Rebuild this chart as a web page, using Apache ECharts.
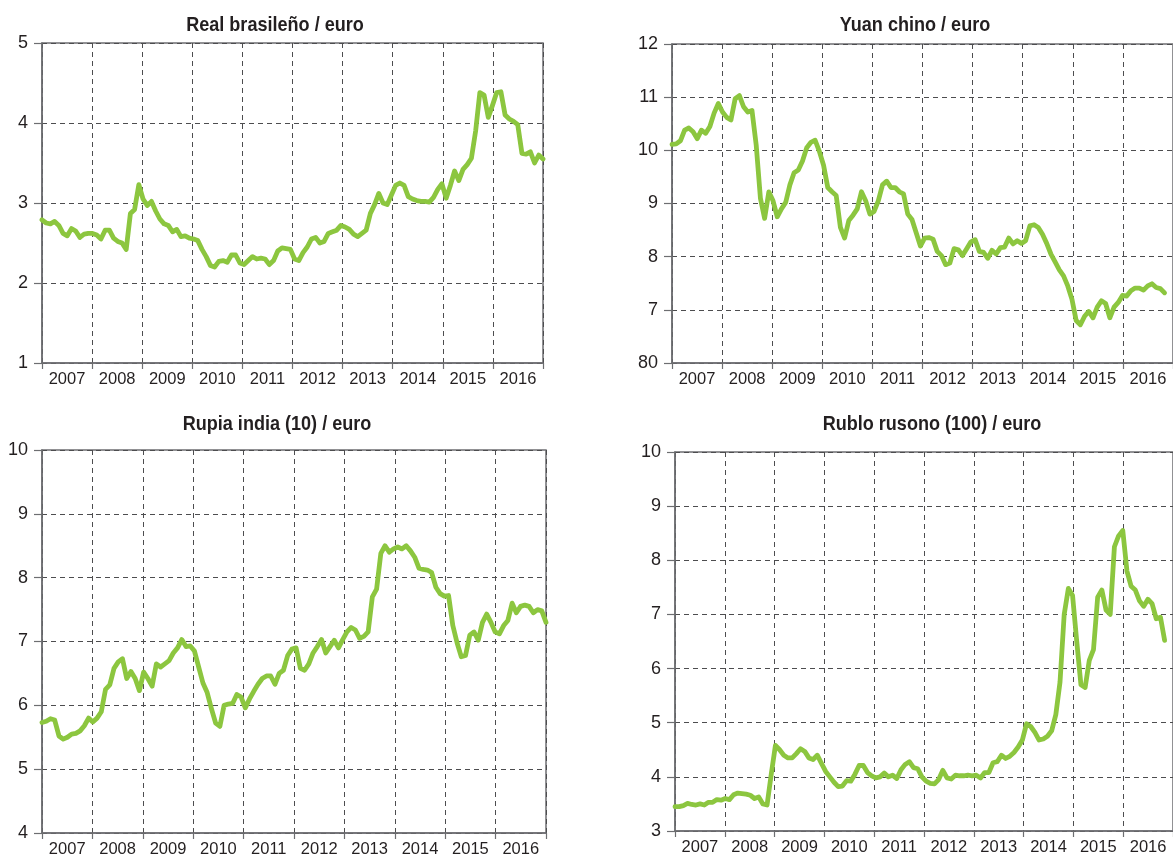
<!DOCTYPE html>
<html>
<head>
<meta charset="utf-8">
<script src="https://cdn.jsdelivr.net/npm/echarts@6/dist/echarts.min.js"></script>
<style>
  html, body { margin: 0; padding: 0; background: #fff; }
  #chart { width: 1173px; height: 860px; }
</style>
</head>
<body>
<div id="chart"></div>
<script>
// years shown under each panel (one band per year, Jan 2007 - Dec 2016)
const years = ['2007', '2008', '2009', '2010', '2011', '2012', '2013', '2014', '2015', '2016'];

// monthly values
const realBrasileno = [
  2.79, 2.75, 2.74, 2.77, 2.72, 2.62, 2.59, 2.68, 2.65, 2.57, 2.61, 2.62,
  2.62, 2.60, 2.55, 2.66, 2.66, 2.56, 2.52, 2.50, 2.42, 2.87, 2.92, 3.23,
  3.05, 2.97, 3.02, 2.90, 2.80, 2.74, 2.72, 2.64, 2.67, 2.58, 2.59, 2.56,
  2.55, 2.53, 2.42, 2.33, 2.22, 2.20, 2.27, 2.28, 2.26, 2.35, 2.35, 2.25,
  2.23, 2.28, 2.33, 2.30, 2.31, 2.30, 2.23, 2.28, 2.40, 2.44, 2.43, 2.42,
  2.30, 2.28, 2.38, 2.45, 2.55, 2.57, 2.50, 2.52, 2.62, 2.64, 2.66, 2.72,
  2.70, 2.67, 2.61, 2.58, 2.62, 2.66, 2.87, 2.98, 3.12, 3.00, 2.98, 3.10,
  3.22, 3.25, 3.22, 3.08, 3.05, 3.03, 3.02, 3.02, 3.01, 3.07, 3.17, 3.24,
  3.06, 3.22, 3.40, 3.28, 3.42, 3.48, 3.56, 3.90, 4.38, 4.35, 4.07, 4.22,
  4.38, 4.39, 4.10, 4.05, 4.02, 3.98, 3.62, 3.61, 3.64, 3.50, 3.60, 3.55
];

const yuanChino = [
  10.11, 10.12, 10.18, 10.38, 10.42, 10.35, 10.22, 10.38, 10.32, 10.45, 10.70, 10.88,
  10.72, 10.62, 10.57, 10.97, 11.03, 10.82, 10.72, 10.75, 10.10, 9.10, 8.72, 9.22,
  9.05, 8.75, 8.90, 9.02, 9.35, 9.58, 9.63, 9.80, 10.05, 10.15, 10.19, 9.98,
  9.72, 9.30, 9.22, 9.15, 8.55, 8.35, 8.68, 8.78, 8.90, 9.22, 9.05, 8.80,
  8.85, 9.05, 9.35, 9.42, 9.30, 9.30, 9.22, 9.18, 8.80, 8.70, 8.45, 8.20,
  8.35, 8.36, 8.33, 8.10, 8.02, 7.85, 7.88, 8.15, 8.13, 8.02, 8.15, 8.28,
  8.32, 8.10, 8.08, 7.97, 8.12, 8.05, 8.17, 8.18, 8.35, 8.24, 8.30, 8.25,
  8.30, 8.58, 8.60, 8.55, 8.42, 8.25, 8.05, 7.90, 7.75, 7.64, 7.45, 7.20,
  6.80, 6.72, 6.88, 6.97, 6.85, 7.05, 7.17, 7.12, 6.85, 7.05, 7.14, 7.27,
  7.26, 7.36, 7.41, 7.41, 7.37, 7.45, 7.49, 7.42, 7.40, 7.32
];

const rupiaIndia = [
  5.73, 5.75, 5.79, 5.77, 5.52, 5.47, 5.50, 5.55, 5.56, 5.60, 5.68, 5.80,
  5.74, 5.80, 5.90, 6.25, 6.32, 6.58, 6.68, 6.73, 6.42, 6.53, 6.42, 6.23,
  6.52, 6.42, 6.30, 6.65, 6.60, 6.65, 6.70, 6.82, 6.90, 7.03, 6.92, 6.93,
  6.85, 6.60, 6.35, 6.20, 5.95, 5.72, 5.67, 6.00, 6.02, 6.03, 6.17, 6.13,
  5.96, 6.10, 6.22, 6.33, 6.42, 6.46, 6.46, 6.33, 6.50, 6.55, 6.78, 6.88,
  6.90, 6.58, 6.55, 6.65, 6.82, 6.92, 7.03, 6.82, 6.92, 7.02, 6.90, 7.03,
  7.15, 7.22, 7.18, 7.05, 7.08, 7.15, 7.70, 7.82, 8.38, 8.50, 8.40, 8.45,
  8.48, 8.45, 8.50, 8.42, 8.32, 8.15, 8.13, 8.12, 8.08, 7.85, 7.75, 7.71,
  7.72, 7.25, 6.98, 6.76, 6.78, 7.10, 7.15, 7.02, 7.30, 7.43, 7.30, 7.15,
  7.12, 7.25, 7.33, 7.60, 7.45, 7.55, 7.57, 7.55, 7.45, 7.50, 7.48, 7.30
];

const rubloRuso = [
  3.45, 3.45, 3.47, 3.51, 3.49, 3.48, 3.50, 3.48, 3.53, 3.53, 3.58, 3.57,
  3.60, 3.58, 3.67, 3.70, 3.69, 3.68, 3.66, 3.60, 3.63, 3.50, 3.48, 4.05,
  4.58, 4.50, 4.40, 4.35, 4.35, 4.43, 4.52, 4.47, 4.35, 4.32, 4.40, 4.25,
  4.10, 4.00, 3.90, 3.82, 3.83, 3.93, 3.92, 4.05, 4.21, 4.21, 4.08, 4.02,
  3.98, 4.00, 4.07, 4.00, 4.03, 3.97, 4.13, 4.23, 4.28, 4.17, 4.15, 4.00,
  3.92, 3.88, 3.87, 3.95, 4.12, 3.98, 3.96, 4.03, 4.02, 4.02, 4.03, 4.02,
  4.03, 3.98, 4.08, 4.08, 4.26, 4.28, 4.40, 4.34, 4.38, 4.45, 4.55, 4.68,
  4.98, 4.93, 4.82, 4.68, 4.70, 4.75, 4.85, 5.15, 5.75, 7.00, 7.48, 7.35,
  6.50, 5.70, 5.65, 6.15, 6.35, 7.32, 7.45, 7.08, 7.00, 8.25, 8.45, 8.55,
  7.80, 7.52, 7.45, 7.25, 7.15, 7.28, 7.20, 6.92, 6.95, 6.52
];

// y tick labels, bottom to top
const realTicks = ['1', '2', '3', '4', '5'];
const yuanTicks = ['80', '7', '8', '9', '10', '11', '12'];
const rupiaTicks = ['4', '5', '6', '7', '8', '9', '10'];
const rubloTicks = ['3', '4', '5', '6', '7', '8', '9', '10'];

const MONTHS = 120;
const LINE = '#8cc63f';
const TEXT = '#231f20';
const AXIS = '#6d6e71';
const FONT = '"Liberation Sans", Arial, sans-serif';

const panels = [
  { title: 'Real brasileño / euro', values: realBrasileno, ticks: realTicks, min: 1,
    grid: { left: 42, top: 43, width: 501, height: 320 }, titleX: 275, titleY: 25 },
  { title: 'Yuan chino / euro', values: yuanChino, ticks: yuanTicks, min: 6,
    grid: { left: 672, top: 44, width: 505, height: 319 }, titleX: 915, titleY: 25 },
  { title: 'Rupia india (10) / euro', values: rupiaIndia, ticks: rupiaTicks, min: 4,
    grid: { left: 42, top: 450, width: 504, height: 383 }, titleX: 277, titleY: 424 },
  { title: 'Rublo rusono (100) / euro', values: rubloRuso, ticks: rubloTicks, min: 3,
    grid: { left: 675, top: 452, width: 502, height: 379 }, titleX: 932, titleY: 424 }
];

const dashed = { show: true, interval: 0, lineStyle: { color: '#4d4d4f', width: 1, type: [5, 4] } };

const grids = [], xAxes = [], yAxes = [], series = [], titles = [];

panels.forEach((p, i) => {
  grids.push({ ...p.grid, show: true, borderColor: AXIS, borderWidth: 1.5, backgroundColor: 'transparent' });

  // visible year bands
  xAxes.push({
    type: 'category', gridIndex: i, data: years, boundaryGap: true,
    axisLine: { lineStyle: { color: AXIS, width: 1.5 } },
    axisTick: { show: true, interval: 0, length: 6, lineStyle: { color: AXIS, width: 1.2 } },
    splitLine: dashed,
    axisLabel: { interval: 0, color: TEXT, fontSize: 16.5, fontFamily: FONT, margin: 8 }
  });
  // hidden month axis the line is drawn on
  xAxes.push({ type: 'value', gridIndex: i, min: 0, max: MONTHS - 1, show: false });

  yAxes.push({
    type: 'value', gridIndex: i, min: p.min, max: p.min + p.ticks.length - 1, interval: 1,
    axisLine: { show: true, lineStyle: { color: AXIS, width: 1.5 } },
    axisTick: { show: true, length: 8, lineStyle: { color: AXIS, width: 1.2 } },
    splitLine: { ...dashed, interval: undefined },
    axisLabel: {
      color: TEXT, fontSize: 18, fontFamily: FONT, margin: 14,
      formatter: v => p.ticks[Math.round(v - p.min)]
    }
  });

  series.push({
    type: 'line', xAxisIndex: i * 2 + 1, yAxisIndex: i,
    data: p.values.map((v, m) => [m, v]),
    showSymbol: false, symbol: 'none', smooth: false,
    lineStyle: { color: LINE, width: 4.8, cap: 'round', join: 'round' },
    animation: false
  });

  // condensed bold heading, like the source's narrow face
  titles.push({
    type: 'text', x: p.titleX, y: p.titleY, scaleX: 0.86,
    style: {
      text: p.title, fill: TEXT, align: 'center', verticalAlign: 'middle',
      fontSize: 21, fontWeight: 'bold', fontFamily: FONT
    }
  });
});

const chart = echarts.init(document.getElementById('chart'), null, { renderer: 'canvas' });
chart.setOption({
  backgroundColor: '#fff',
  animation: false,
  grid: grids,
  xAxis: xAxes,
  yAxis: yAxes,
  series: series,
  graphic: titles
});
</script>
</body>
</html>
